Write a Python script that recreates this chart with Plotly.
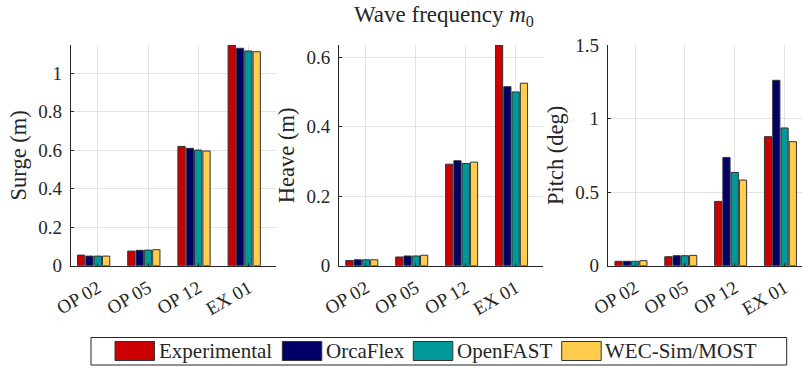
import plotly.graph_objects as go

# ---- data -------------------------------------------------------------
cases = ["OP 02", "OP 05", "OP 12", "EX 01"]
models = ["Experimental", "OrcaFlex", "OpenFAST", "WEC-Sim/MOST"]

surge_experimental = [0.055, 0.076, 0.620, 1.147]
surge_orcaflex = [0.050, 0.080, 0.610, 1.130]
surge_openfast = [0.050, 0.081, 0.601, 1.116]
surge_wecsim = [0.050, 0.083, 0.596, 1.112]

heave_experimental = [0.015, 0.025, 0.292, 0.635]
heave_orcaflex = [0.017, 0.028, 0.302, 0.515]
heave_openfast = [0.017, 0.028, 0.294, 0.500]
heave_wecsim = [0.017, 0.030, 0.298, 0.525]

pitch_experimental = [0.030, 0.061, 0.437, 0.877]
pitch_orcaflex = [0.030, 0.068, 0.736, 1.260]
pitch_openfast = [0.030, 0.068, 0.634, 0.936]
pitch_wecsim = [0.034, 0.070, 0.582, 0.843]

panels = [
    ("Surge (m)", [surge_experimental, surge_orcaflex, surge_openfast, surge_wecsim]),
    ("Heave (m)", [heave_experimental, heave_orcaflex, heave_openfast, heave_wecsim]),
    ("Pitch (deg)", [pitch_experimental, pitch_orcaflex, pitch_openfast, pitch_wecsim]),
]

# ---- styling ----------------------------------------------------------
W, H = 802, 367
colors = ["#cc0000", "#000066", "#009999", "#ffcc4d"]
edge = "#333333"
ink = "#262626"
grid = "#e3e3e3"
font = "Liberation Serif"

# five bar slots per case (last slot left empty), tick sits on the 3rd slot
slot = 0.166
bar_w = 0.145
centers = [-2 * slot, -1 * slot, 0.0, 1 * slot]

# axes placement in pixels
panel_px = [(70.7, 275.5), (339.0, 542.6), (607.7, 802.0)]
x_ranges = [[-0.54, 3.54], [-0.54, 3.54], [-0.55, 3.35]]
y_ranges = [[0, 1.147], [0, 0.635], [0, 1.5]]
y_dticks = [0.2, 0.2, 0.5]
top_px, bottom_px = 45.0, 265.7


def px_x(x):
    return x / W


def px_y(y):
    return 1 - y / H


fig = go.Figure()

for p, (label, series) in enumerate(panels):
    xa = "x" if p == 0 else f"x{p + 1}"
    ya = "y" if p == 0 else f"y{p + 1}"
    for k, (name, vals) in enumerate(zip(models, series)):
        fig.add_trace(go.Bar(
            x=cases, y=vals, name=name, xaxis=xa, yaxis=ya,
            width=bar_w, offset=centers[k] - bar_w / 2,
            marker=dict(color=colors[k], line=dict(color=edge, width=1)),
            showlegend=False,
        ))

    axis_common = dict(
        showline=True, linecolor=ink, linewidth=1,
        ticks="inside", ticklen=3, tickcolor=ink,
        showgrid=True, gridcolor=grid, gridwidth=1,
        zeroline=False, automargin=False,
        tickfont=dict(family=font, size=19, color=ink),
    )
    x0, x1 = panel_px[p]
    xkey = "xaxis" if p == 0 else f"xaxis{p + 1}"
    ykey = "yaxis" if p == 0 else f"yaxis{p + 1}"
    fig.update_layout(**{
        xkey: dict(
            axis_common, domain=[px_x(x0), px_x(x1)], anchor=ya,
            type="category", range=x_ranges[p], tickangle=-30,
            ticklabelstandoff=3,
        ),
        ykey: dict(
            axis_common, domain=[px_y(bottom_px), px_y(top_px)], anchor=xa,
            range=y_ranges[p], dtick=y_dticks[p], tick0=0,
            ticklabelstandoff=4,
            title=dict(text=label, standoff=5,
                       font=dict(family=font, size=22.5, color=ink)),
        ),
    })

# panel title over the middle axes
fig.add_annotation(
    x=px_x(444), y=px_y(16), xref="paper", yref="paper",
    text="Wave frequency <i>m</i><sub>0</sub>", showarrow=False,
    xanchor="center", yanchor="middle",
    font=dict(family=font, size=23, color=ink),
)

# legend strip along the bottom
fig.add_shape(type="rect", xref="paper", yref="paper",
              x0=px_x(91), x1=px_x(786.7), y0=px_y(365), y1=px_y(337.5),
              line=dict(color=ink, width=1), fillcolor="white", layer="above")
swatch_x = [115.0, 282.3, 413.3, 561.7]
for k, name in enumerate(models):
    sx = swatch_x[k]
    fig.add_shape(type="rect", xref="paper", yref="paper",
                  x0=px_x(sx), x1=px_x(sx + 39.5), y0=px_y(360.5), y1=px_y(341.5),
                  line=dict(color=edge, width=1), fillcolor=colors[k], layer="above")
    fig.add_annotation(
        x=px_x(sx + 41.5), y=px_y(351), xref="paper", yref="paper",
        text=name, showarrow=False, xanchor="left", yanchor="middle",
        font=dict(family=font, size=21, color=ink),
    )

fig.update_layout(
    width=W, height=H,
    margin=dict(l=0, r=0, t=0, b=0, autoexpand=False),
    paper_bgcolor="white", plot_bgcolor="white",
    barmode="overlay",
    showlegend=False,
)

fig.write_html("out.html")
